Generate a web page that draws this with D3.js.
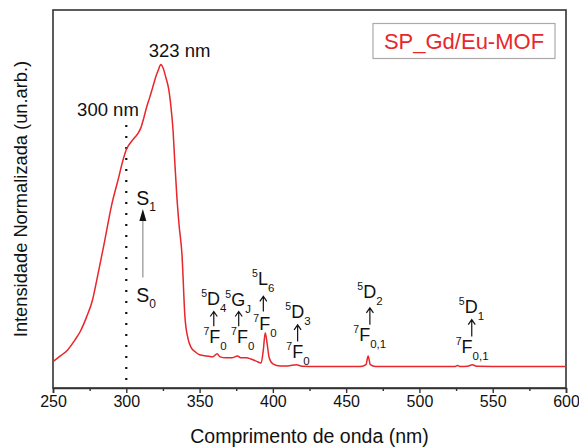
<!DOCTYPE html>
<html>
<head>
<meta charset="utf-8">
<script src="https://cdn.jsdelivr.net/npm/d3@7"></script>
<style>
  body { margin: 0; background: #fff; }
  svg text { font-family: "Liberation Sans", Arial, sans-serif; fill: #111; }
</style>
</head>
<body>
<div id="chart"></div>
<script>
// excitation spectrum (normalised, peak = 1)
const wavelength = [250, 255, 260, 265, 268.5, 273, 277, 280, 285, 290, 295, 297, 300, 303, 306, 308,
  310, 312, 314, 316, 318, 320, 322, 323.5, 325, 327, 329, 331, 332, 333, 334.5, 336, 338, 340, 342,
  344, 347, 350, 355, 359, 362, 364, 368, 372, 376, 378, 382, 385, 389, 392, 393.5, 394.8, 396, 397.5,
  400, 405, 410, 416, 420, 430, 460, 463.5, 465, 466.5, 470, 500, 524, 526, 528, 533, 536, 539, 560, 600];
const intensity = [0.017, 0.036, 0.056, 0.089, 0.116, 0.166, 0.222, 0.29, 0.41, 0.535, 0.63, 0.67,
  0.718, 0.742, 0.76, 0.772, 0.791, 0.824, 0.861, 0.891, 0.924, 0.957, 0.983, 1.0, 0.99, 0.957, 0.917,
  0.834, 0.775, 0.685, 0.563, 0.47, 0.371, 0.166, 0.096, 0.066, 0.05, 0.04, 0.036, 0.033, 0.043, 0.033,
  0.03, 0.03, 0.036, 0.03, 0.03, 0.026, 0.018, 0.013, 0.056, 0.113, 0.08, 0.03, 0.01, 0.003, 0.003,
  0.007, 0.002, 0.001, 0.001, 0.007, 0.036, 0.007, 0.001, 0.001, 0.001, 0.004, 0.001, 0.002, 0.007,
  0.002, 0.001, 0.001];

const xTicks = [250, 300, 350, 400, 450, 500, 550, 600];
const xMinorTicks = [275, 325, 375, 425, 475, 525, 575];

// Eu3+ transition labels: [sup, letter, sub, wavelength, intensity]
const levelLabels = [
  ["5", "D", "4", 351.1, 0.205], ["7", "F", "0", 352.7, 0.079],
  ["5", "G", "J", 367.6, 0.202], ["7", "F", "0", 371.5, 0.079],
  ["5", "L", "6", 385.8, 0.272], ["7", "F", "0", 386.7, 0.123],
  ["5", "D", "3", 408.5, 0.162], ["7", "F", "0", 409.2, 0.030],
  ["5", "D", "2", 457.6, 0.228], ["7", "F", "0,1", 454.9, 0.084],
  ["5", "D", "1", 526.9, 0.179], ["7", "F", "0,1", 524.8, 0.046]
];
// small up arrows: [wavelength, from, to]
const levelArrows = [[359.7, 0.134, 0.183], [376.7, 0.134, 0.183], [393.5, 0.183, 0.233],
  [416.9, 0.084, 0.139], [466.2, 0.139, 0.195], [535.7, 0.1, 0.156]];

const peakLabels = [["323 nm", 336.3, 1.026], ["300 nm", 287.5, 0.831]];

const width = 579, height = 448;
const margin = { top: 10, right: 13, bottom: 60, left: 53 };

const svg = d3.select("#chart").append("svg")
  .attr("width", width)
  .attr("height", height);

const x = d3.scaleLinear().domain([250, 600]).range([margin.left, width - margin.right]);
const y = d3.scaleLinear().domain([-0.07, 1.18]).range([height - margin.bottom, margin.top]);

const red = "#e8262b";

// frame
svg.append("rect")
  .attr("x", x(250)).attr("y", y(1.18))
  .attr("width", x(600) - x(250)).attr("height", y(-0.07) - y(1.18))
  .attr("fill", "none").attr("stroke", "#333").attr("stroke-width", 1.6);

// axis
const axisG = svg.append("g")
  .attr("transform", `translate(0,${y(-0.07)})`)
  .call(d3.axisBottom(x).tickValues(xTicks).tickSize(5).tickPadding(3).tickFormat(d3.format("d")));
axisG.select(".domain").attr("stroke", "#333").attr("stroke-width", 1.6);
axisG.selectAll(".tick line").attr("stroke", "#333").attr("stroke-width", 1.4);
axisG.selectAll(".tick text").attr("font-size", 16).attr("fill", "#222")
  .style("font-family", "'Liberation Sans', Arial, sans-serif");

const minorG = svg.append("g")
  .attr("transform", `translate(0,${y(-0.07)})`)
  .call(d3.axisBottom(x).tickValues(xMinorTicks).tickSize(3).tickFormat(""));
minorG.select(".domain").remove();
minorG.selectAll(".tick line").attr("stroke", "#333").attr("stroke-width", 1.4);

// axis titles
svg.append("text")
  .attr("x", (x(250) + x(600)) / 2).attr("y", 443)
  .attr("text-anchor", "middle").attr("font-size", 19.5)
  .text("Comprimento de onda (nm)");

svg.append("text")
  .attr("transform", `translate(27,${(y(-0.07) + y(1.18)) / 2}) rotate(-90)`)
  .attr("text-anchor", "middle").attr("font-size", 18.3)
  .text("Intensidade Normalizada (un.arb.)");

// dotted line at 300 nm
svg.append("line")
  .attr("x1", x(300)).attr("x2", x(300))
  .attr("y1", y(0.80)).attr("y2", y(-0.07))
  .attr("stroke", "#111").attr("stroke-width", 2.2)
  .attr("stroke-dasharray", "2,9");

// spectrum
const line = d3.line()
  .x((d, i) => x(wavelength[i]))
  .y(d => y(d))
  .curve(d3.curveMonotoneX);

svg.append("path")
  .datum(intensity)
  .attr("d", line)
  .attr("fill", "none")
  .attr("stroke", red)
  .attr("stroke-width", 1.5);

// peak labels
svg.selectAll(".peak")
  .data(peakLabels)
  .enter()
  .append("text")
  .attr("class", "peak")
  .attr("x", d => x(d[1])).attr("y", d => y(d[2]))
  .attr("text-anchor", "middle").attr("font-size", 18.5)
  .text(d => d[0]);

// S0 -> S1
svg.append("line")
  .attr("x1", x(311.3)).attr("x2", x(311.3))
  .attr("y1", y(0.295)).attr("y2", y(0.50))
  .attr("stroke", "#999").attr("stroke-width", 1.3);
svg.append("path")
  .attr("d", `M${x(311.3)},${y(0.522)} l-3.5,12 l7,0 z`)
  .attr("fill", "#111");

const sLabels = [["S", "1", 306.8, 0.536], ["S", "0", 306.8, 0.215]];
sLabels.forEach(d => {
  const t = svg.append("text").attr("x", x(d[2])).attr("y", y(d[3])).attr("font-size", 19.5);
  t.append("tspan").text(d[0]);
  t.append("tspan").attr("dy", 6).attr("font-size", 12).text(d[1]);
});

// Eu level labels
levelLabels.forEach(d => {
  const t = svg.append("text").attr("x", x(d[3])).attr("y", y(d[4])).attr("font-size", 18);
  t.append("tspan").attr("dy", -8).attr("font-size", 10.5).text(d[0]);
  t.append("tspan").attr("dy", 8).text(d[1]);
  t.append("tspan").attr("dy", 7).attr("font-size", 11.5).text(d[2]);
});

levelArrows.forEach(d => {
  const xa = x(d[0]), y0 = y(d[1]), y1 = y(d[2]);
  svg.append("path")
    .attr("d", `M${xa},${y0} L${xa},${y1} M${xa - 3.5},${y1 + 5} L${xa},${y1} L${xa + 3.5},${y1 + 5}`)
    .attr("fill", "none").attr("stroke", "#111").attr("stroke-width", 1.2);
});

// legend box
svg.append("rect")
  .attr("x", 373).attr("y", 23.5).attr("width", 182).attr("height", 35)
  .attr("fill", "#fff").attr("stroke", "#aaa").attr("stroke-width", 1.2);
svg.append("text")
  .attr("x", 464).attr("y", 49).attr("text-anchor", "middle")
  .attr("font-size", 22).style("fill", red)
  .text("SP_Gd/Eu-MOF");
</script>
</body>
</html>
